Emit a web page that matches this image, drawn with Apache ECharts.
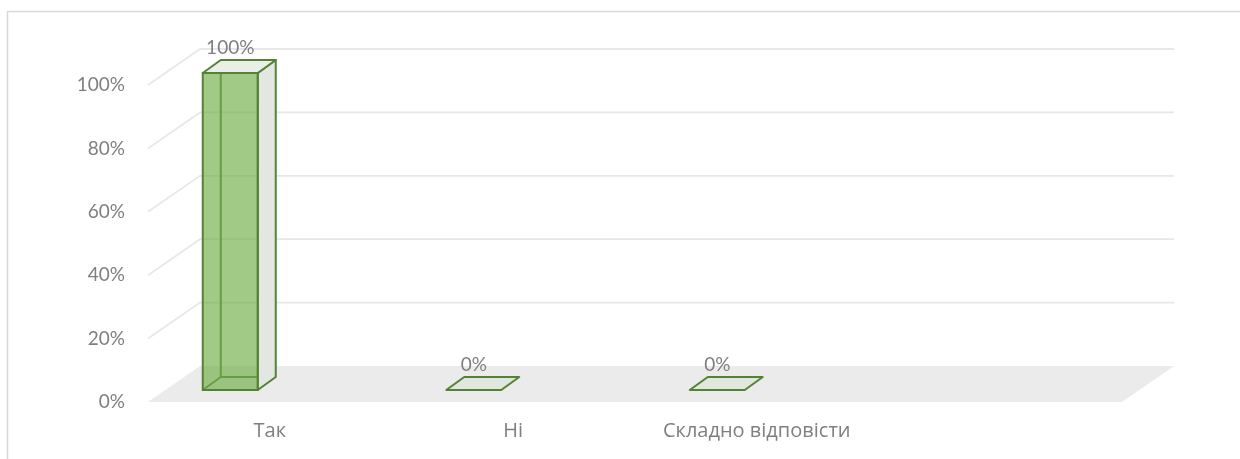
<!DOCTYPE html>
<html>
<head>
<meta charset="utf-8">
<script src="https://cdn.jsdelivr.net/npm/echarts@6/dist/echarts.min.js"></script>
<style>
  html, body { margin: 0; padding: 0; background: #fff; }
  #chart { width: 1240px; height: 459px; }
</style>
</head>
<body>
<div id="chart"></div>
<script>
const categories = ['Так', 'Ні', 'Складно відповісти', ''];
const shares = [1, 0, 0, null];
const yTicks = [0, 0.2, 0.4, 0.6, 0.8, 1];

// fake 3D: pixel offsets from the front plane
const WALL_OFF = [52, -36];
const BAR_FRONT = [17, -12];
const BAR_BACK = [35, -25];
const BAR_LEFT = -84;
const BAR_W = 55;

const EDGE = '#548235';
const FONT = 'Lato, "Noto Sans", sans-serif';
const CAT_FONT = 'Open Sans';
const TEXT = '#7f7f7f';

const shift = (p, off) => [p[0] + off[0], p[1] + off[1]];

const renderWall = (params, api) => {
  const t = api.value(1);
  const cs = params.coordSys;
  const y = api.coord([0, t])[1];
  const left = cs.x;
  const right = cs.x + cs.width;
  if (t === 0) {
    return {
      type: 'polygon',
      shape: {
        points: [[left, y], [right, y], shift([right, y], WALL_OFF), shift([left, y], WALL_OFF)],
      },
      style: { fill: '#ebebeb', stroke: null },
    };
  }
  return {
    type: 'polyline',
    shape: {
      points: [[left, y], shift([left, y], WALL_OFF), shift([right, y], WALL_OFF)],
    },
    style: { stroke: '#e8e8e8', lineWidth: 1.8, fill: null },
  };
};

const renderBar = (params, api) => {
  const v = api.value(1);
  if (v == null || isNaN(v)) return null;
  const idx = api.value(0);
  const base = api.coord([idx, 0]);
  const topY = api.coord([idx, v])[1];
  const x0 = base[0] + BAR_LEFT;
  const x1 = x0 + BAR_W;
  const f = (x, y) => shift([x, y], BAR_FRONT);
  const b = (x, y) => shift([x, y], BAR_BACK);
  const fbl = f(x0, base[1]), fbr = f(x1, base[1]), ftl = f(x0, topY), ftr = f(x1, topY);
  const bbl = b(x0, base[1]), bbr = b(x1, base[1]), btl = b(x0, topY), btr = b(x1, topY);
  const edge = { stroke: EDGE, lineWidth: 2, lineJoin: 'round' };
  const children = [];
  if (v > 0) {
    // hidden edges first, seen through the faces
    children.push({ type: 'polyline', shape: { points: [btl, bbl, bbr] }, style: Object.assign({ fill: null }, edge) });
    children.push({ type: 'polyline', shape: { points: [fbl, bbl] }, style: Object.assign({ fill: null }, edge) });
    children.push({ type: 'polygon', shape: { points: [fbr, bbr, btr, ftr] }, style: Object.assign({ fill: '#e3e7e1' }, edge) });
    children.push({ type: 'polygon', shape: { points: [ftl, ftr, btr, btl] }, style: Object.assign({ fill: '#e9eee6' }, edge) });
    children.push({ type: 'polygon', shape: { points: [fbl, fbr, ftr, ftl] }, style: { fill: 'rgba(112,173,71,0.65)', stroke: EDGE, lineWidth: 2 } });
  } else {
    children.push({ type: 'polygon', shape: { points: [fbl, fbr, bbr, bbl] }, style: Object.assign({ fill: '#e1e6de' }, edge) });
  }
  children.push({
    type: 'text',
    style: {
      text: Math.round(v * 100) + '%',
      x: (fbl[0] + fbr[0]) / 2,
      y: btl[1] - 3,
      align: 'center',
      verticalAlign: 'bottom',
      fill: TEXT,
      fontSize: 19,
      fontFamily: FONT,
    },
  });
  return { type: 'group', children };
};

const chart = echarts.init(document.getElementById('chart'));
chart.setOption({
  animation: false,
  grid: { left: 148, right: 118, top: 85, bottom: 57 },
  graphic: [
    {
      type: 'rect',
      shape: { x: 7.5, y: 11.5, width: 1400, height: 600 },
      style: { fill: null, stroke: '#d9d9d9', lineWidth: 1.5 },
      silent: true,
    },
  ],
  xAxis: {
    type: 'category',
    data: categories,
    axisLine: { show: false },
    axisTick: { show: false },
    axisLabel: { color: TEXT, fontSize: 20, fontFamily: CAT_FONT, margin: 19, interval: 0, hideOverlap: false },
  },
  yAxis: {
    type: 'value',
    min: 0,
    max: 1,
    interval: 0.2,
    axisLine: { show: false },
    axisTick: { show: false },
    splitLine: { show: false },
    axisLabel: {
      color: TEXT,
      fontSize: 19,
      fontFamily: FONT,
      margin: 23,
      formatter: (val) => Math.round(val * 100) + '%',
    },
  },
  series: [
    {
      type: 'custom',
      z: 1,
      renderItem: renderWall,
      data: yTicks.map((t) => [0, t]),
      silent: true,
    },
    {
      type: 'custom',
      z: 2,
      renderItem: renderBar,
      data: shares.map((s, i) => [i, s]),
      silent: true,
    },
  ],
});
</script>
</body>
</html>
